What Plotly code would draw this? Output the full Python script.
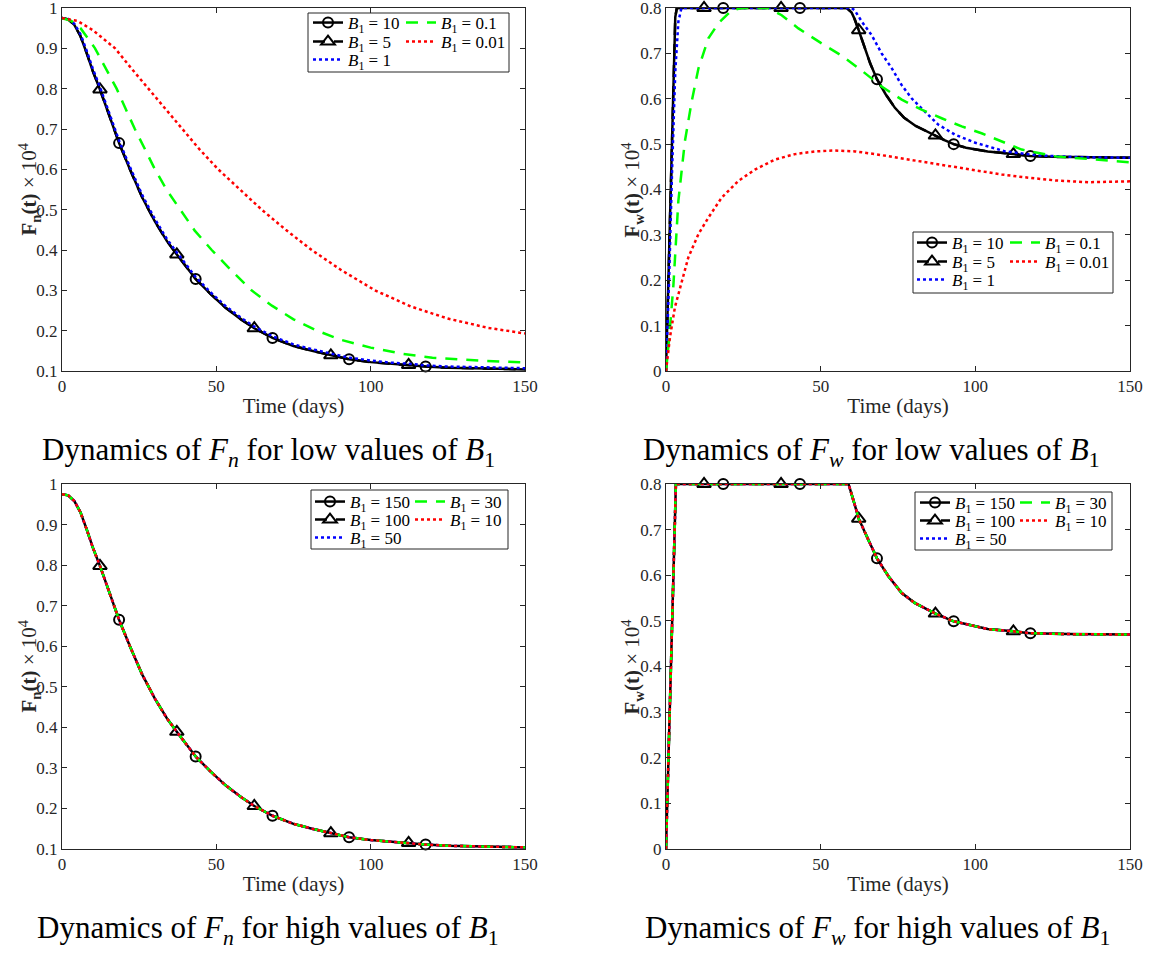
import plotly.graph_objects as go

W, H = 1151, 953
SERIF = "Liberation Serif"
AXIS_GREY = "#262626"

# ---------------- data ----------------
# marker days used on the B1 = 10/150 (circles) and B1 = 5/100 (triangles) curves
circle_days = [18.5, 43.3, 68.2, 93.0, 117.8]
triangle_days = [12.3, 37.2, 62.3, 87.1, 112.3]

# F_n, low B1
t_fn = [0, 2, 4, 6, 8, 10, 12.3, 15, 18.5, 22, 26, 30, 34, 37.2, 40, 43.3, 48, 53, 58,
        62.3, 68.2, 75, 81, 87.1, 93.0, 100, 106, 112.3, 117.8, 125, 135, 150]
fn_b10 = [0.975, 0.972, 0.958, 0.930, 0.888, 0.843, 0.798, 0.740, 0.665, 0.600, 0.530,
          0.472, 0.422, 0.389, 0.362, 0.328, 0.292, 0.257, 0.228, 0.206, 0.182, 0.162,
          0.150, 0.139, 0.129, 0.122, 0.118, 0.115, 0.111, 0.108, 0.106, 0.104]
fn_b5 = fn_b10
fn_b1 = [0.975, 0.973, 0.961, 0.935, 0.894, 0.849, 0.804, 0.746, 0.671, 0.606, 0.536,
         0.478, 0.427, 0.394, 0.367, 0.333, 0.296, 0.261, 0.232, 0.210, 0.186, 0.166,
         0.154, 0.143, 0.133, 0.126, 0.121, 0.118, 0.114, 0.111, 0.109, 0.107]
t_fn_b01 = [0, 3, 6, 8.5, 10.7, 14, 17.7, 20.5, 23.6, 27, 30.1, 34, 38.2, 43, 48.5, 55,
            61.4, 68, 75, 82, 90, 100, 110, 120, 135, 150]
fn_b01 = [0.975, 0.968, 0.950, 0.925, 0.900, 0.853, 0.800, 0.752, 0.700, 0.648, 0.600,
          0.548, 0.500, 0.448, 0.400, 0.348, 0.300, 0.262, 0.228, 0.202, 0.178, 0.158,
          0.143, 0.133, 0.126, 0.121]
t_fn_b001 = [0, 5, 10, 17.2, 22.5, 28, 33.5, 38.8, 44.5, 50.6, 57.5, 64.7, 72.5, 80.9,
             90.5, 101.4, 113, 125, 138, 150]
fn_b001 = [0.975, 0.968, 0.945, 0.900, 0.850, 0.800, 0.750, 0.700, 0.650, 0.600, 0.550,
           0.500, 0.450, 0.400, 0.350, 0.300, 0.260, 0.230, 0.207, 0.193]

# F_w, low B1
t_fw = [0, 1, 2, 3, 3.5, 12.3, 18.5, 37.2, 43.3, 58.5, 60, 61, 62.3, 64, 66, 68.2, 71,
        74, 77, 80.5, 84, 87.1, 90, 93.0, 97, 104, 112.3, 117.8, 125, 135, 150]
fw_b10 = [0, 0.26, 0.55, 0.78, 0.80, 0.80, 0.80, 0.80, 0.80, 0.80, 0.790, 0.775, 0.751,
          0.715, 0.678, 0.643, 0.610, 0.580, 0.558, 0.541, 0.529, 0.519, 0.509, 0.500,
          0.492, 0.484, 0.478, 0.474, 0.472, 0.471, 0.470]
fw_b5 = fw_b10
t_fw_b1 = [0, 1, 2, 3, 4, 5, 60, 61, 63.3, 66.5, 69.7, 73, 76.2, 79.4, 82.6, 88, 93.4,
           100, 109.6, 120.4, 135, 150]
fw_b1 = [0, 0.20, 0.45, 0.66, 0.77, 0.80, 0.80, 0.795, 0.770, 0.740, 0.700, 0.667, 0.630,
         0.601, 0.579, 0.543, 0.521, 0.503, 0.484, 0.475, 0.471, 0.470]
t_fw_b01 = [0, 1, 2.4, 4, 6.1, 8.3, 10.5, 13.7, 16.9, 21.2, 24.5, 33, 37.4, 42.8, 50.3,
            56.8, 63.3, 69.7, 76.2, 82.6, 89.1, 95.6, 102, 108.5, 115, 125.8, 150]
fw_b01 = [0, 0.07, 0.19, 0.375, 0.506, 0.594, 0.667, 0.733, 0.766, 0.795, 0.80, 0.80,
          0.784, 0.755, 0.722, 0.695, 0.662, 0.627, 0.598, 0.576, 0.557, 0.539, 0.524,
          0.506, 0.488, 0.473, 0.460]
t_fw_b001 = [0, 1.3, 2.9, 5.1, 7.2, 10.5, 13.7, 18, 23.4, 28.8, 35.2, 41.7, 48.2, 54.6,
             61.1, 67.6, 74, 82.6, 91.3, 99.9, 108.5, 117.1, 125.8, 136.5, 150]
fw_b001 = [0, 0.075, 0.141, 0.199, 0.250, 0.302, 0.338, 0.382, 0.419, 0.444, 0.466,
           0.478, 0.484, 0.486, 0.484, 0.478, 0.471, 0.462, 0.451, 0.442, 0.433, 0.426,
           0.420, 0.416, 0.418]

# F_n, high B1 (all five values of B1 coincide)
fn_b150 = fn_b10
fn_b100 = fn_b10
fn_b50 = fn_b10
fn_b30 = fn_b10
fn_b10_hi = fn_b10

# F_w, high B1 (all five values of B1 coincide)
t_fw_hi = [0, 1, 2, 3, 3.2, 12.3, 18.5, 37.2, 43.3, 59, 61, 62.3, 65.4, 68.2, 71.9, 76.2,
           80.5, 84, 87.1, 93.0, 104, 112.3, 117.8, 130, 150]
fw_hi = [0, 0.25, 0.52, 0.78, 0.80, 0.80, 0.80, 0.80, 0.80, 0.80, 0.755, 0.724, 0.678,
         0.637, 0.598, 0.561, 0.539, 0.526, 0.516, 0.499, 0.482, 0.477, 0.473, 0.471, 0.470]
fw_b150 = fw_hi
fw_b100 = fw_hi
fw_b50 = fw_hi
fw_b30 = fw_hi
fw_b10_hi = fw_hi

labels_low = ["10", "5", "1", "0.1", "0.01"]
labels_high = ["150", "100", "50", "30", "10"]

captions = [
    "Dynamics of <i>F<sub>n</sub></i> for low values of <i>B</i><sub>1</sub>",
    "Dynamics of <i>F<sub>w</sub></i> for low values of <i>B</i><sub>1</sub>",
    "Dynamics of <i>F<sub>n</sub></i> for high values of <i>B</i><sub>1</sub>",
    "Dynamics of <i>F<sub>w</sub></i> for high values of <i>B</i><sub>1</sub>",
]

# ---------------- styles ----------------
LONG_DASH = "12px,9px"
STYLES = [
    dict(color="black", dash="solid", symbol="circle-open", msize=10, marks=circle_days),
    dict(color="black", dash=LONG_DASH, symbol="triangle-up-open", msize=12, marks=triangle_days),
    dict(color="blue", dash="dot", symbol=None, msize=0, marks=None),
    dict(color="#00ff00", dash=LONG_DASH, symbol=None, msize=0, marks=None),
    dict(color="red", dash="dot", symbol=None, msize=0, marks=None),
]
LINE_W = 2.5

# pixel geometry of the four axes boxes: (left, right, top, bottom)
BOXES = [(62, 525, 8, 371), (666, 1130, 8, 371), (62, 525, 484, 849), (666, 1130, 484, 849)]
# x centre of the rotated y-axis titles
YTITLE_X = [29, 632, 29, 632]
# legend frames: (left, right, top, bottom), row centres, symbol start of each column
LEG = [
    dict(box=(308, 509, 13, 72), rows=(23, 42, 60), cols=(313, 406)),
    dict(box=(913, 1113, 232, 293), rows=(243, 262, 280), cols=(917, 1010)),
    dict(box=(311, 508, 490, 549), rows=(502, 520, 538), cols=(315, 415)),
    dict(box=(915, 1112, 492, 550), rows=(503, 521, 539), cols=(920, 1020)),
]
# (row, column) of each series inside the legend frame
LEG_SLOT = [(0, 0), (1, 0), (2, 0), (0, 1), (1, 1)]
CAPTIONS_POS = [(268, 452), (871, 452), (268, 930), (877, 930)]

panels = [
    dict(series=[(t_fn, fn_b10), (t_fn, fn_b5), (t_fn, fn_b1), (t_fn_b01, fn_b01),
                 (t_fn_b001, fn_b001)], labels=labels_low, yrange=[0.1, 1], var="n"),
    dict(series=[(t_fw, fw_b10), (t_fw, fw_b5), (t_fw_b1, fw_b1), (t_fw_b01, fw_b01),
                 (t_fw_b001, fw_b001)], labels=labels_low, yrange=[0, 0.8], var="w"),
    dict(series=[(t_fn, fn_b150), (t_fn, fn_b100), (t_fn, fn_b50), (t_fn, fn_b30),
                 (t_fn, fn_b10_hi)], labels=labels_high, yrange=[0.1, 1], var="n"),
    dict(series=[(t_fw_hi, fw_b150), (t_fw_hi, fw_b100), (t_fw_hi, fw_b50),
                 (t_fw_hi, fw_b30), (t_fw_hi, fw_b10_hi)], labels=labels_high,
         yrange=[0, 0.8], var="w"),
]

fig = go.Figure()
layout = dict(
    width=W, height=H, margin=dict(l=0, r=0, t=0, b=0, autoexpand=False),
    paper_bgcolor="white", plot_bgcolor="white",
    font=dict(family=SERIF, color="black"),
    showlegend=True, shapes=[], annotations=[],
)

legend_count = 0
for p_idx, panel in enumerate(panels):
    n = p_idx + 1
    xa = "x" if n == 1 else f"x{n}"
    ya = "y" if n == 1 else f"y{n}"
    left, right, top, bottom = BOXES[p_idx]
    axis_common = dict(
        showline=True, linecolor=AXIS_GREY, linewidth=1, mirror="ticks",
        ticks="inside", ticklen=5, tickwidth=1, tickcolor=AXIS_GREY,
        showgrid=False, zeroline=False, ticklabeloverflow="allow",
        tickfont=dict(family=SERIF, size=17, color=AXIS_GREY),
    )
    layout["xaxis" if n == 1 else f"xaxis{n}"] = dict(
        axis_common, domain=[left / W, right / W], anchor=ya,
        range=[0, 150], tick0=0, dtick=50,
        title=dict(text="Time (days)", font=dict(family=SERIF, size=21, color=AXIS_GREY),
                   standoff=2),
    )
    layout["yaxis" if n == 1 else f"yaxis{n}"] = dict(
        axis_common, domain=[1 - bottom / H, 1 - top / H], anchor=xa,
        range=panel["yrange"], tick0=0, dtick=0.1,
    )
    # rotated y-axis title
    layout["annotations"].append(dict(
        text=f"<b>F</b><sub><b>{panel['var']}</b></sub><b>(t)</b> × 10<sup>4</sup>",
        xref="paper", yref="paper", x=YTITLE_X[p_idx] / W,
        y=1 - (top + bottom) / 2 / H, textangle=-90, showarrow=False,
        xanchor="center", yanchor="middle",
        font=dict(family=SERIF, size=21, color=AXIS_GREY),
    ))

    leg = LEG[p_idx]
    bl, br, bt, bb = leg["box"]
    layout["shapes"].append(dict(
        type="rect", xref="paper", yref="paper", x0=bl / W, x1=br / W,
        y0=1 - bb / H, y1=1 - bt / H, line=dict(color=AXIS_GREY, width=1),
        fillcolor="white", layer="above",
    ))

    for s_idx, (tx, vy) in enumerate(panel["series"]):
        st = STYLES[s_idx]
        label = f"<i>B</i><sub>1</sub> = {panel['labels'][s_idx]}"
        fig.add_trace(go.Scatter(
            x=tx, y=vy, mode="lines", xaxis=xa, yaxis=ya, showlegend=False,
            line=dict(color=st["color"], dash=st["dash"], width=LINE_W),
            hoverinfo="skip",
        ))
        if st["marks"]:
            idx = [tx.index(d) for d in st["marks"]]
            fig.add_trace(go.Scatter(
                x=[tx[i] for i in idx], y=[vy[i] for i in idx], mode="markers",
                xaxis=xa, yaxis=ya, showlegend=False, cliponaxis=False,
                marker=dict(symbol=st["symbol"], size=st["msize"], color="black",
                            line=dict(color="black", width=2)),
                hoverinfo="skip",
            ))

        # each legend entry sits in its own small legend inside the frame
        legend_count += 1
        lname = "legend" if legend_count == 1 else f"legend{legend_count}"
        row, col = LEG_SLOT[s_idx]
        layout[lname] = dict(
            x=(leg["cols"][col] - 5) / W, y=1 - leg["rows"][row] / H,
            xanchor="left", yanchor="middle", orientation="v",
            bgcolor="rgba(0,0,0,0)", borderwidth=0,
            font=dict(family=SERIF, size=17, color="black"),
            itemwidth=30, itemclick=False, itemdoubleclick=False,
        )
        fig.add_trace(go.Scatter(
            x=[None], y=[None], xaxis=xa, yaxis=ya, name=label, legend=lname,
            mode="lines+markers" if st["marks"] else "lines",
            line=dict(color=st["color"], dash=st["dash"], width=LINE_W),
            marker=dict(symbol=st["symbol"] or "circle", size=st["msize"] or 1,
                        color="black", line=dict(color="black", width=2)),
        ))

    cx, cy = CAPTIONS_POS[p_idx]
    layout["annotations"].append(dict(
        text=captions[p_idx], xref="paper", yref="paper", x=cx / W, y=1 - cy / H,
        xanchor="center", yanchor="middle", showarrow=False,
        font=dict(family=SERIF, size=31, color="black"),
    ))

fig.update_layout(**layout)
fig.write_html("out.html")
